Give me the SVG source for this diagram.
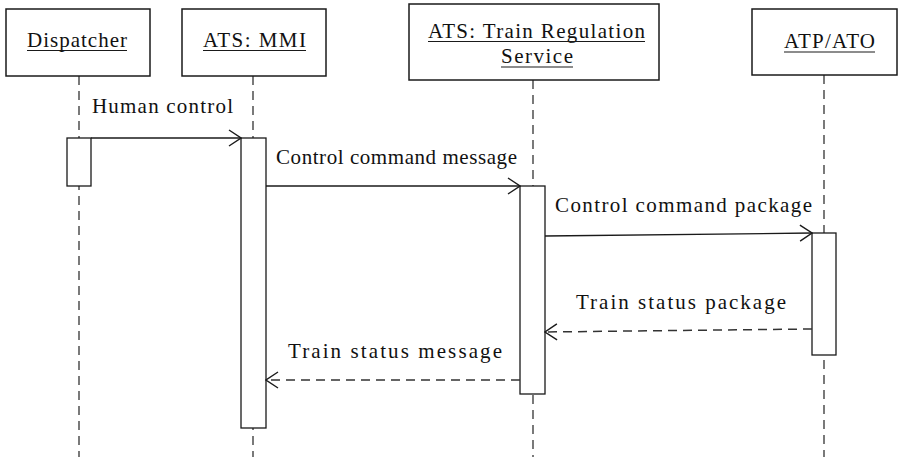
<svg xmlns="http://www.w3.org/2000/svg" width="898" height="457" viewBox="0 0 898 457">
<style>
.box{fill:#fff;stroke:#1a1a1a;stroke-width:1.5}
.act{fill:#fff;stroke:#1a1a1a;stroke-width:1.3}
.life{stroke:#333;stroke-width:1.3;stroke-dasharray:9,6;fill:none}
.msg{stroke:#1a1a1a;stroke-width:1.3;fill:none}
.ret{stroke:#333;stroke-width:1.5;fill:none;stroke-dasharray:9,6}
.ul{stroke:#1a1a1a;stroke-width:1.2}
</style>
<defs>
<marker id="open" viewBox="0 0 14 18" refX="13" refY="9" markerWidth="14" markerHeight="18" markerUnits="userSpaceOnUse" orient="auto">
<path d="M1,1 L13,9 L1,17" fill="none" stroke="#1a1a1a" stroke-width="1.4"/>
</marker>
</defs>
<g id="lifelines">
<line class="life" x1="79" y1="76" x2="79" y2="457"/>
<line class="life" x1="253" y1="76" x2="253" y2="457"/>
<line class="life" x1="533" y1="80" x2="533" y2="457"/>
<line class="life" x1="824" y1="75" x2="824" y2="457"/>
</g>
<g font-family="Liberation Serif, serif" font-size="21" fill="#111">
<g id="dispatcher">
<rect class="box" x="6" y="9" width="144" height="67"/>
<text x="27" y="47" textLength="100" lengthAdjust="spacing">Dispatcher</text>
<line class="ul" x1="27" y1="50.5" x2="127" y2="50.5"/>
<rect class="act" x="67" y="138" width="24" height="48"/>
</g>
<g id="mmi">
<rect class="box" x="182" y="9" width="144" height="67"/>
<text x="203" y="47" textLength="103" lengthAdjust="spacing">ATS: MMI</text>
<line class="ul" x1="203" y1="50.5" x2="306" y2="50.5"/>
<rect class="act" x="241" y="138" width="25" height="290"/>
</g>
<g id="trs">
<rect class="box" x="409" y="4" width="250" height="76"/>
<text x="428" y="38" textLength="217" lengthAdjust="spacing">ATS: Train Regulation</text>
<line class="ul" x1="428" y1="41.5" x2="645" y2="41.5"/>
<text x="501" y="63" textLength="72" lengthAdjust="spacing">Service</text>
<line class="ul" x1="501" y1="67" x2="573" y2="67"/>
<rect class="act" x="520" y="186" width="25" height="208"/>
</g>
<g id="atp">
<rect class="box" x="752" y="9" width="145" height="66"/>
<text x="784" y="48" textLength="91" lengthAdjust="spacing">ATP/ATO</text>
<line class="ul" x1="784" y1="52" x2="875" y2="52"/>
<rect class="act" x="812" y="233" width="24" height="122"/>
</g>
<g id="connectors">
<line class="msg" x1="91" y1="138" x2="241" y2="138" marker-end="url(#open)"/>
<text x="92" y="113" textLength="141" lengthAdjust="spacing">Human control</text>
<line class="msg" x1="266" y1="186" x2="520" y2="186" marker-end="url(#open)"/>
<text x="276" y="164" textLength="241" lengthAdjust="spacing">Control command message</text>
<line class="msg" x1="545" y1="236" x2="812" y2="233" marker-end="url(#open)"/>
<text x="555" y="212" textLength="257" lengthAdjust="spacing">Control command package</text>
<line class="ret" x1="812" y1="329" x2="545" y2="332" marker-end="url(#open)"/>
<text x="576" y="309" textLength="210" lengthAdjust="spacing">Train status package</text>
<line class="ret" x1="520" y1="380" x2="266" y2="380" marker-end="url(#open)"/>
<text x="288" y="358" textLength="214" lengthAdjust="spacing">Train status message</text>
</g>
</g>
</svg>
